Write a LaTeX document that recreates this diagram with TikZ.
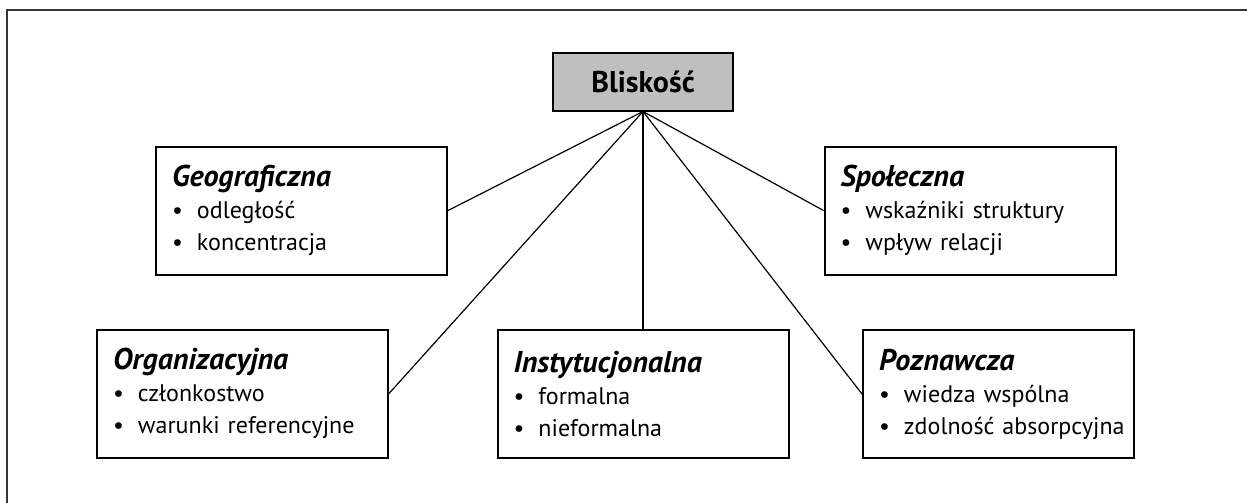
\documentclass[tikz,border=0pt]{standalone}
\usepackage{fontspec}
\setmainfont{PT Sans}

% one bullet line inside a box
\newcommand\pkt[1]{\par\mbox{\makebox[12.5pt][l]{\textbullet}#1}}
% box heading
\newcommand\kind[1]{{\fontsize{15}{16}\selectfont\bfseries\itshape #1}}

\tikzset{
  frame/.style={line width=1pt, black!80},
  box/.style={draw, line width=1pt, inner xsep=8pt, inner ysep=0pt,
    text width=#1, minimum height=64pt, align=left,
    font=\fontsize{12}{16}\selectfont},
  box/.default=129.5pt,
  head/.style={draw, line width=1pt, fill=black!25, minimum width=90pt,
    minimum height=29pt, font=\fontsize{15}{16}\selectfont\bfseries},
  link/.style={line width=0.6pt}
}

\begin{document}
\begin{tikzpicture}[x=0.5pt, y=-0.5pt]
  \useasboundingbox (0, 0) rectangle (1247, 503);

  % outer frame (only top and left edge visible)
  \draw[frame] (7, 503) -- (7, 10) -- (1247, 10);

  % top node
  \node[head] (bli) at (643, 81.5) {Bliskość};

  % the five kinds
  \node[box] (geo) at (301.5, 210.5) {\kind{Geograficzna}
    \pkt{odległość}\pkt{koncentracja}};
  \node[box] (spo) at (970, 210.5) {\kind{Społeczna}
    \pkt{wskaźniki struktury}\pkt{wpływ relacji}};
  \node[box] (org) at (242.5, 393.5) {\kind{Organizacyjna}
    \pkt{członkostwo}\pkt{warunki referencyjne}};
  \node[box] (ins) at (643, 394) {\kind{Instytucjonalna}
    \pkt{formalna}\pkt{nieformalna}};
  \node[box=119.5pt] (poz) at (998.5, 394) {\kind{Poznawcza}
    \pkt{wiedza wspólna}\pkt{zdolność absorpcyjna}};

  % connectors
  \foreach \dest / \side in {geo/east, spo/west, org/east, ins/north, poz/west}{
    \draw[link] (bli.south) -- (\dest.\side);
  }
\end{tikzpicture}
\end{document}
